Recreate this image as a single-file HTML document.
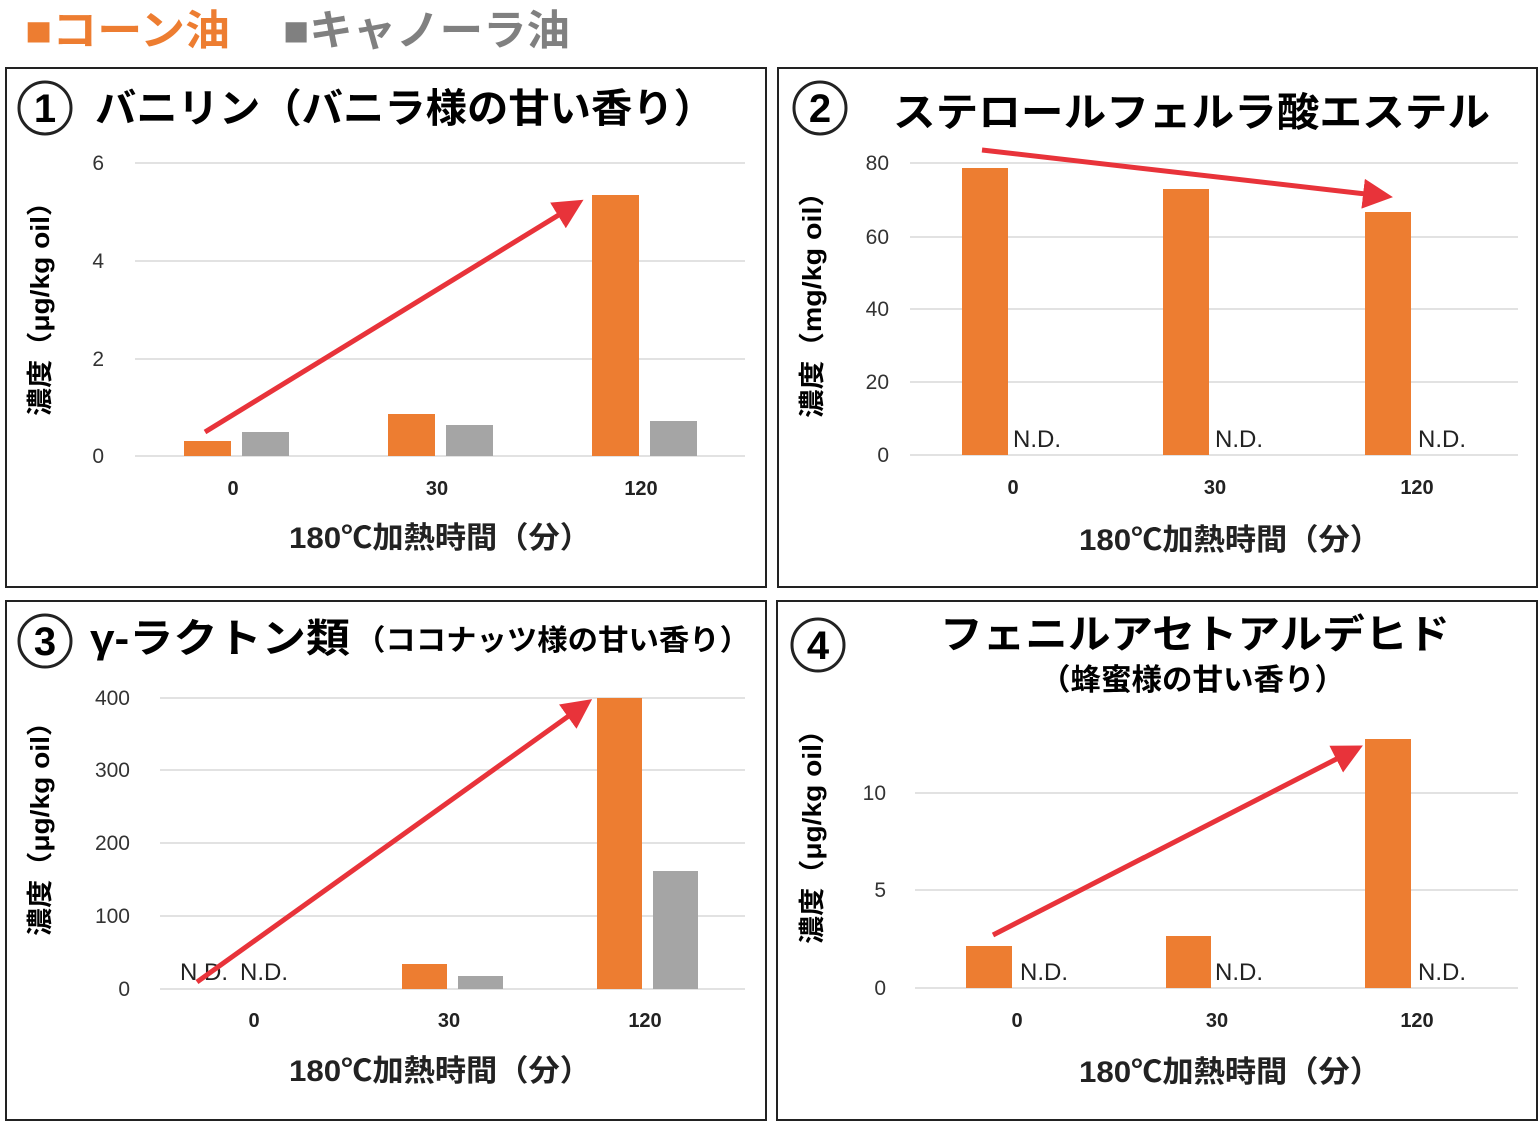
<!DOCTYPE html>
<html><head><meta charset="utf-8"><style>
body{margin:0;background:#fff}
svg text{font-family:"Liberation Sans","Noto Sans CJK JP",sans-serif}
.b{font-weight:bold}
.t{font-size:21px;fill:#333}
.c{font-size:20px;font-weight:bold;fill:#222;text-anchor:middle}
.x{font-size:30px;font-weight:bold;fill:#222;text-anchor:middle}
.nd{font-size:24px;fill:#222}
.g{stroke:#d9d9d9;stroke-width:1.5}
</style></head><body>
<svg width="1539" height="1122" xmlns="http://www.w3.org/2000/svg">
<defs><marker id="ah" markerWidth="6" markerHeight="6" refX="4" refY="3" orient="auto" markerUnits="strokeWidth"><path d="M0,0 L6,3 L0,6 z" fill="#e8333a"/></marker></defs>
<text x="25" y="45" font-size="42" class="b" fill="#ed7d31" textLength="205" lengthAdjust="spacingAndGlyphs">■コーン油</text>
<text x="283" y="45" font-size="42" class="b" fill="#808080" textLength="287" lengthAdjust="spacingAndGlyphs">■キャノーラ油</text>
<g fill="none" stroke="#222" stroke-width="2">
<rect x="6" y="68" width="760" height="519"/><rect x="778" y="68" width="759" height="519"/>
<rect x="6" y="601" width="760" height="519"/><rect x="777" y="601" width="760" height="519"/>
<circle cx="45" cy="108" r="26" stroke-width="3"/><circle cx="820" cy="108" r="26" stroke-width="3"/>
<circle cx="45" cy="641" r="26" stroke-width="3"/><circle cx="818" cy="645" r="26" stroke-width="3"/>
</g>
<g class="b" font-size="40" text-anchor="middle" fill="#000">
<text x="45" y="122">1</text><text x="820" y="122">2</text><text x="45" y="655">3</text><text x="818" y="659">4</text></g>
<g class="b" fill="#000">
<text x="95" y="122" font-size="40" textLength="620" lengthAdjust="spacingAndGlyphs">バニリン（バニラ様の甘い香り）</text>
<text x="893" y="126" font-size="40" textLength="597" lengthAdjust="spacingAndGlyphs">ステロールフェルラ酸エステル</text>
<text x="90" y="652" font-size="40" textLength="260" lengthAdjust="spacingAndGlyphs">γ-ラクトン類</text>
<text x="355" y="650" font-size="29" textLength="395" lengthAdjust="spacingAndGlyphs">（ココナッツ様の甘い香り）</text>
<text x="940" y="648" font-size="40" textLength="510" lengthAdjust="spacingAndGlyphs">フェニルアセトアルデヒド</text>
<text x="1040" y="690" font-size="30" textLength="305" lengthAdjust="spacingAndGlyphs">（蜂蜜様の甘い香り）</text>
</g>
<!-- P1 -->
<g class="g"><line x1="135" x2="745" y1="163" y2="163"/><line x1="135" x2="745" y1="261" y2="261"/><line x1="135" x2="745" y1="359" y2="359"/><line x1="135" x2="745" y1="456" y2="456"/></g>
<g class="t" text-anchor="end"><text x="104" y="170">6</text><text x="104" y="268">4</text><text x="104" y="366">2</text><text x="104" y="463">0</text></g>
<g fill="#ed7d31"><rect x="184" y="441" width="47" height="15"/><rect x="388" y="414" width="47" height="42"/><rect x="592" y="195" width="47" height="261"/></g>
<g fill="#a5a5a5"><rect x="242" y="432" width="47" height="24"/><rect x="446" y="425" width="47" height="31"/><rect x="650" y="421" width="47" height="35"/></g>
<text class="c" x="233" y="495">0</text><text class="c" x="437" y="495">30</text><text class="c" x="641" y="495">120</text>
<text class="x" x="440" y="548" textLength="302" lengthAdjust="spacingAndGlyphs">180℃加熱時間（分）</text>
<text class="b" font-size="26" text-anchor="middle" transform="translate(49,302) rotate(-90)" textLength="228" lengthAdjust="spacingAndGlyphs">濃度（μg/kg oil）</text>
<line x1="205" y1="432" x2="575" y2="205" stroke="#e8333a" stroke-width="5" marker-end="url(#ah)"/>
<!-- P2 -->
<g class="g"><line x1="910" x2="1518" y1="163" y2="163"/><line x1="910" x2="1518" y1="237" y2="237"/><line x1="910" x2="1518" y1="309" y2="309"/><line x1="910" x2="1518" y1="382" y2="382"/><line x1="910" x2="1518" y1="455" y2="455"/></g>
<g class="t" text-anchor="end"><text x="889" y="170">80</text><text x="889" y="244">60</text><text x="889" y="316">40</text><text x="889" y="389">20</text><text x="889" y="462">0</text></g>
<g fill="#ed7d31"><rect x="962" y="168" width="46" height="287"/><rect x="1163" y="189" width="46" height="266"/><rect x="1365" y="212" width="46" height="243"/></g>
<g class="nd"><text x="1013" y="447">N.D.</text><text x="1215" y="447">N.D.</text><text x="1418" y="447">N.D.</text></g>
<text class="c" x="1013" y="494">0</text><text class="c" x="1215" y="494">30</text><text class="c" x="1417" y="494">120</text>
<text class="x" x="1230" y="550" textLength="302" lengthAdjust="spacingAndGlyphs">180℃加熱時間（分）</text>
<text class="b" font-size="26" text-anchor="middle" transform="translate(821,298) rotate(-90)" textLength="240" lengthAdjust="spacingAndGlyphs">濃度（mg/kg oil）</text>
<line x1="982" y1="150" x2="1383" y2="196" stroke="#e8333a" stroke-width="5" marker-end="url(#ah)"/>
<!-- P3 -->
<g class="g"><line x1="160" x2="745" y1="698" y2="698"/><line x1="160" x2="745" y1="770" y2="770"/><line x1="160" x2="745" y1="843" y2="843"/><line x1="160" x2="745" y1="916" y2="916"/><line x1="160" x2="745" y1="989" y2="989"/></g>
<g class="t" text-anchor="end"><text x="130" y="705">400</text><text x="130" y="777">300</text><text x="130" y="850">200</text><text x="130" y="923">100</text><text x="130" y="996">0</text></g>
<g fill="#ed7d31"><rect x="402" y="964" width="45" height="25"/><rect x="597" y="698" width="45" height="291"/></g>
<g fill="#a5a5a5"><rect x="458" y="976" width="45" height="13"/><rect x="653" y="871" width="45" height="118"/></g>
<text class="nd" x="180" y="980">N.D.</text><text class="nd" x="240" y="980">N.D.</text>
<text class="c" x="254" y="1027">0</text><text class="c" x="449" y="1027">30</text><text class="c" x="645" y="1027">120</text>
<text class="x" x="440" y="1081" textLength="302" lengthAdjust="spacingAndGlyphs">180℃加熱時間（分）</text>
<text class="b" font-size="26" text-anchor="middle" transform="translate(49,822) rotate(-90)" textLength="228" lengthAdjust="spacingAndGlyphs">濃度（μg/kg oil）</text>
<line x1="197" y1="982" x2="584" y2="705" stroke="#e8333a" stroke-width="5" marker-end="url(#ah)"/>
<!-- P4 -->
<g class="g"><line x1="915" x2="1518" y1="793" y2="793"/><line x1="915" x2="1518" y1="890" y2="890"/><line x1="915" x2="1518" y1="988" y2="988"/></g>
<g class="t" text-anchor="end"><text x="886" y="800">10</text><text x="886" y="897">5</text><text x="886" y="995">0</text></g>
<g fill="#ed7d31"><rect x="966" y="946" width="46" height="42"/><rect x="1166" y="936" width="45" height="52"/><rect x="1365" y="739" width="46" height="249"/></g>
<g class="nd"><text x="1020" y="980">N.D.</text><text x="1215" y="980">N.D.</text><text x="1418" y="980">N.D.</text></g>
<text class="c" x="1017" y="1027">0</text><text class="c" x="1217" y="1027">30</text><text class="c" x="1417" y="1027">120</text>
<text class="x" x="1230" y="1082" textLength="302" lengthAdjust="spacingAndGlyphs">180℃加熱時間（分）</text>
<text class="b" font-size="26" text-anchor="middle" transform="translate(821,830) rotate(-90)" textLength="228" lengthAdjust="spacingAndGlyphs">濃度（μg/kg oil）</text>
<line x1="993" y1="935" x2="1354" y2="750" stroke="#e8333a" stroke-width="5" marker-end="url(#ah)"/>
</svg>
</body></html>
